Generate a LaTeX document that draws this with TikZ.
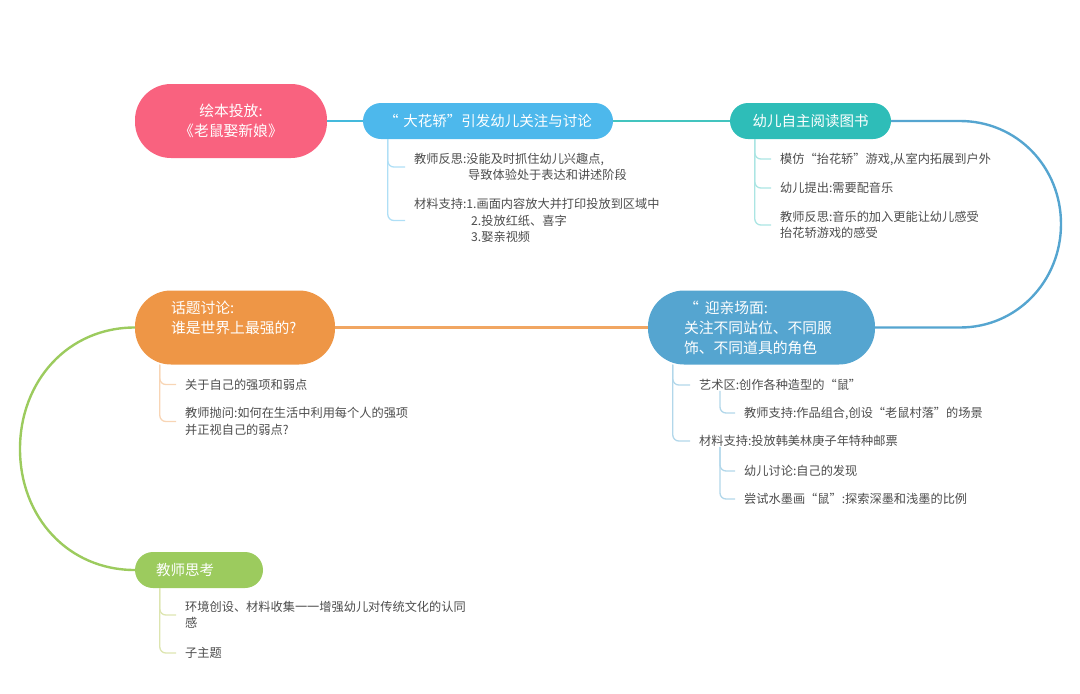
\documentclass[tikz,border=0pt]{standalone}
\usepackage{fontspec}
\usepackage{xcolor}
\setmainfont{Noto Sans CJK SC}

\definecolor{rootpink}{HTML}{F9627F}
\definecolor{skyblue}{HTML}{4DB8EC}
\definecolor{tealgreen}{HTML}{2EBDB8}
\definecolor{seablue}{HTML}{55A5D0}
\definecolor{sandorange}{HTML}{EE9646}
\definecolor{leafgreen}{HTML}{9CCB5E}
\definecolor{palegreen}{HTML}{DDE5B0}

\tikzset{
  topic/.style={rectangle, rounded corners=18pt, minimum height=36pt, text=white, inner sep=0pt,
    font=\fontsize{14.5}{19}\selectfont, align=center},
  bigtopic/.style={topic, rounded corners=36pt, minimum height=74pt, font=\fontsize{14.8}{20}\selectfont},
  leaf/.style={anchor=west, inner ysep=0pt, inner xsep=9pt, align=left, text=black!70,
    font=\fontsize{12.2}{16.5}\selectfont},
  link/.style={line width=2.4pt},
  branch/.style={line width=1.3pt, rounded corners=6pt}
}

\begin{document}
\begin{tikzpicture}[x=1pt, y=-1pt]
  \useasboundingbox (0,0) rectangle (1080,694);

  % Draw the main topics
  \node[bigtopic, fill=rootpink, minimum width=192pt] (root) at (231,121) {绘本投放:\\《老鼠娶新娘》};
  \node[topic, fill=skyblue, minimum width=250pt] (huajiao) at (488,121) {“\hspace*{5pt}大花轿”引发幼儿关注与讨论};
  \node[topic, fill=tealgreen, minimum width=161pt] (yuedu) at (810.5,121) {幼儿自主阅读图书};
  \node[bigtopic, fill=seablue, text width=155pt, inner xsep=36pt, align=left] (yingqin) at (761.5,327.5)
    {“\hspace*{6pt}迎亲场面:\\关注不同站位、不同服\\饰、不同道具的角色};
  \node[bigtopic, fill=sandorange, text width=128pt, inner xsep=36pt, align=left] (huati) at (235,327.5)
    {话题讨论:\\谁是世界上最强的?\\\phantom{话}};
  \node[topic, fill=leafgreen, text width=86pt, inner xsep=21pt, align=left] (sikao) at (199,570) {教师思考};

  % Links between the main topics
  \draw[link, color=skyblue!70!tealgreen] (root.east) -- (huajiao.west);
  \draw[link, color=tealgreen!90!white] (huajiao.east) -- (yuedu.west);
  \draw[link, color=seablue] (yuedu.east) -- (960,121) .. controls (1017,121) and (1061,167) .. (1061,224)
    .. controls (1061,281) and (1017,327.5) .. (960,327.5) -- (yingqin.east);
  \draw[link, color=sandorange!85!white] (yingqin.west) -- (huati.east);
  \draw[link, color=leafgreen] (huati.west) .. controls (68,327.5) and (20,381) .. (20,449)
    .. controls (20,517) and (68,570) .. (sikao.west);

  % Leaves of the first topic
  \node[leaf] (hj1) at (405,167) {教师反思:没能及时抓住幼儿兴趣点,\\\hspace*{54pt}导致体验处于表达和讲述阶段};
  \node[leaf] (hj2) at (405,220.5) {材料支持:1.画面内容放大并打印投放到区域中\\\hspace*{57pt}2.投放红纸、喜字\\\hspace*{57pt}3.娶亲视频};
  \draw[branch, color=skyblue!45] ([xshift=25pt]huajiao.south west) |- (hj1.west);
  \draw[branch, color=skyblue!45] ([xshift=25pt]huajiao.south west) |- (hj2.west);

  % Leaves of the second topic
  \node[leaf] (yd1) at (771,159) {模仿“抬花轿”游戏,从室内拓展到户外};
  \node[leaf] (yd2) at (771,188) {幼儿提出:需要配音乐};
  \node[leaf] (yd3) at (771,225) {教师反思:音乐的加入更能让幼儿感受\\抬花轿游戏的感受};
  \draw[branch, color=tealgreen!40] ([xshift=25pt]yuedu.south west) |- (yd1.west);
  \draw[branch, color=tealgreen!40] ([xshift=25pt]yuedu.south west) |- (yd2.west);
  \draw[branch, color=tealgreen!40] ([xshift=25pt]yuedu.south west) |- (yd3.west);

  % Leaves of the third topic
  \node[leaf] (yq1) at (690,385) {艺术区:创作各种造型的“鼠”};
  \node[leaf] (yq2) at (735,413) {教师支持:作品组合,创设“老鼠村落”的场景};
  \node[leaf] (yq3) at (690,441) {材料支持:投放韩美林庚子年特种邮票};
  \node[leaf] (yq4) at (735,471) {幼儿讨论:自己的发现};
  \node[leaf] (yq5) at (735,499) {尝试水墨画“鼠”:探索深墨和浅墨的比例};
  \draw[branch, color=seablue!45] ([xshift=25pt]yingqin.south west) |- (yq1.west);
  \draw[branch, color=seablue!45] ([xshift=25pt]yingqin.south west) |- (yq3.west);
  \draw[branch, color=seablue!45] ([xshift=30pt]yq1.south west) |- (yq2.west);
  \draw[branch, color=seablue!45] ([xshift=30pt]yq3.south west) |- (yq4.west);
  \draw[branch, color=seablue!45] ([xshift=30pt]yq3.south west) |- (yq5.west);

  % Leaves of the fourth topic
  \node[leaf] (ht1) at (176,384.5) {关于自己的强项和弱点};
  \node[leaf] (ht2) at (176,421.5) {教师抛问:如何在生活中利用每个人的强项\\并正视自己的弱点?};
  \draw[branch, color=sandorange!40] ([xshift=25pt]huati.south west) |- (ht1.west);
  \draw[branch, color=sandorange!40] ([xshift=25pt]huati.south west) |- (ht2.west);

  % Leaves of the last topic
  \node[leaf] (sk1) at (176,615) {环境创设、材料收集一一增强幼儿对传统文化的认同\\感};
  \node[leaf] (sk2) at (176,653) {子主题};
  \draw[branch, color=palegreen] ([xshift=25pt]sikao.south west) |- (sk1.west);
  \draw[branch, color=palegreen] ([xshift=25pt]sikao.south west) |- (sk2.west);
\end{tikzpicture}
\end{document}
